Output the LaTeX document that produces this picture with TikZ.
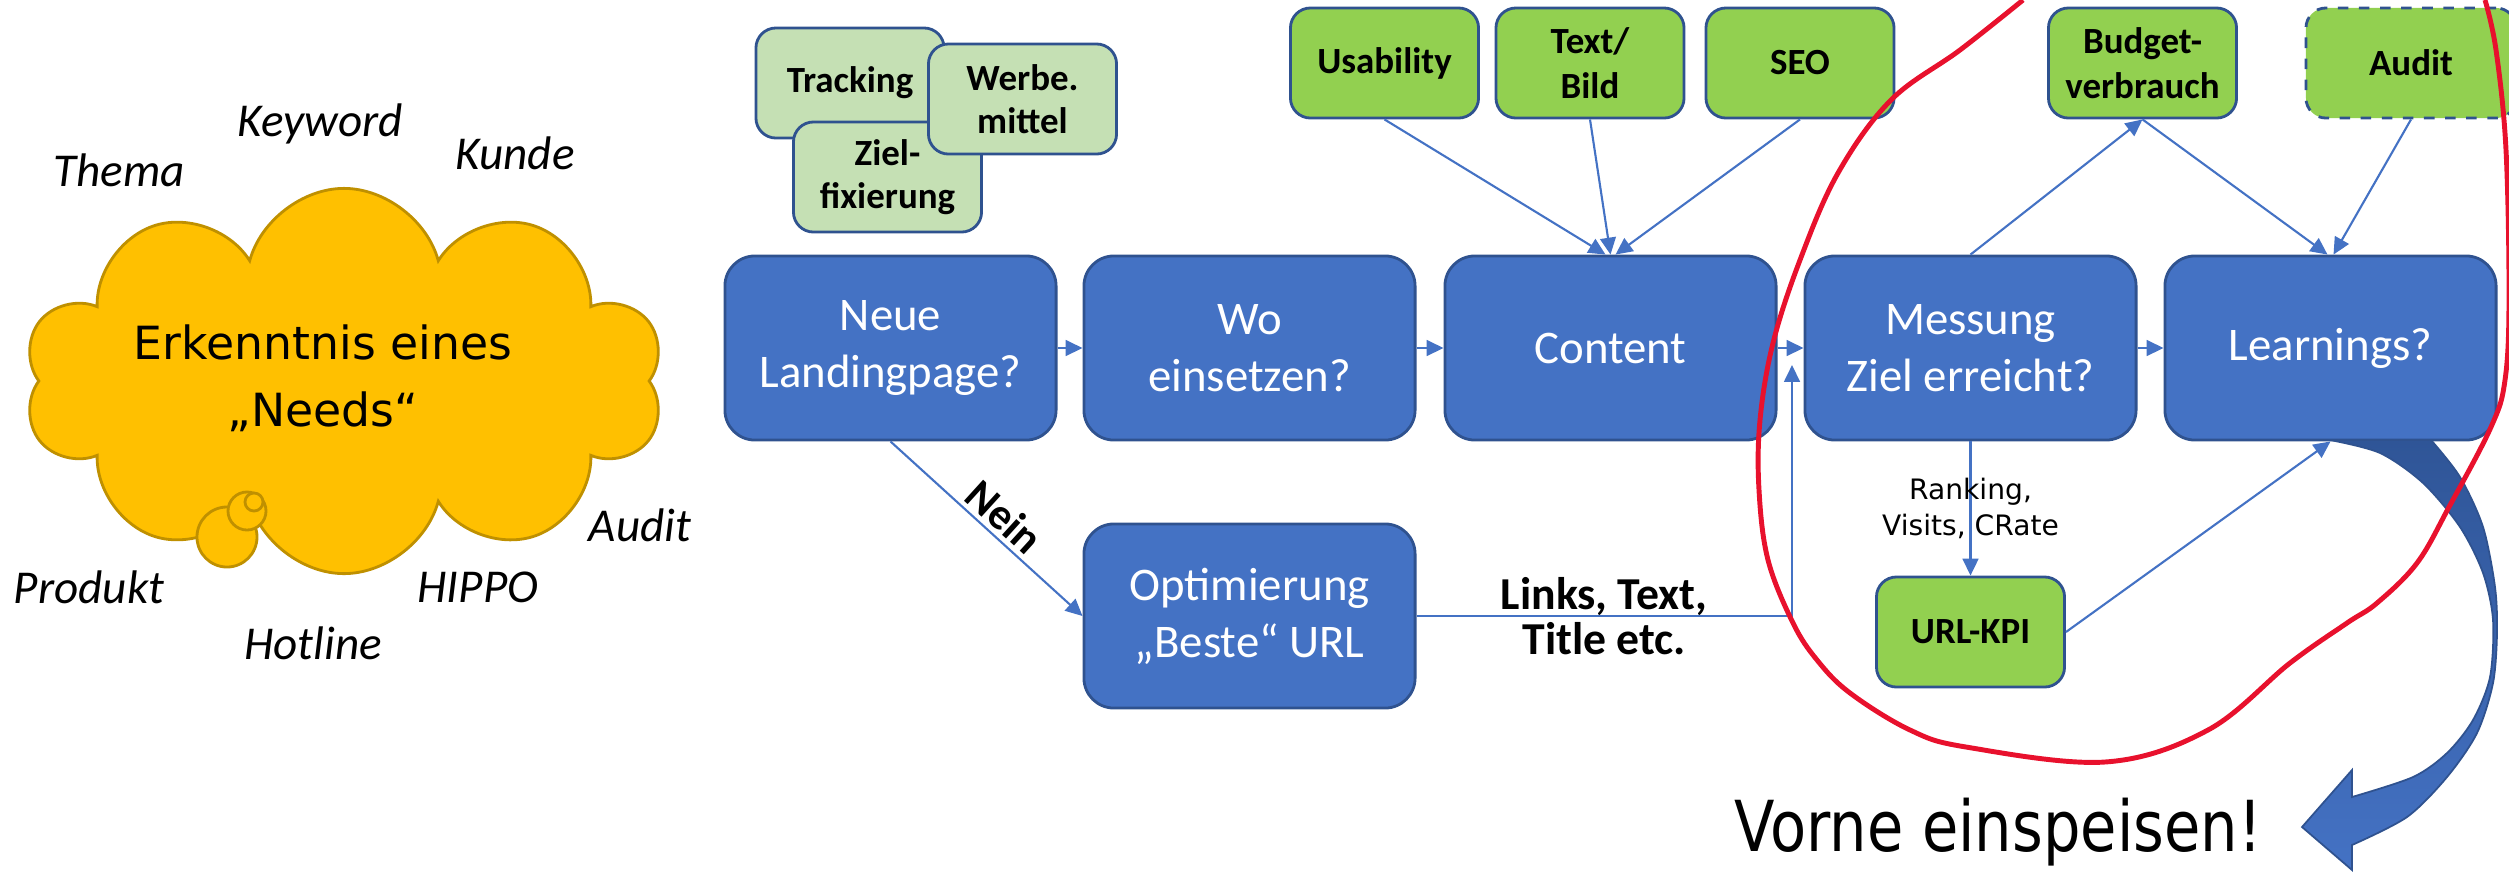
\documentclass[tikz,border=0pt]{standalone}
\usepackage{fontspec}
\setmainfont{Carlito}
\newfontfamily\dejavu{DejaVu Sans}
\newfontfamily\dejavuschmal{DejaVu Sans}[FakeStretch=0.84]
\usetikzlibrary{arrows.meta,shapes.symbols}

\definecolor{boxblue}{HTML}{4472C4}
\definecolor{boxrand}{HTML}{2F528F}
\definecolor{kpigreen}{HTML}{92D050}
\definecolor{palegreen}{HTML}{C5E0B4}
\definecolor{cloudgold}{HTML}{FFC000}
\definecolor{cloudrand}{HTML}{BF9000}
\definecolor{marker}{HTML}{E8112D}
\definecolor{darkarrow}{HTML}{2F5597}

\tikzset{
  schritt/.style={draw=boxrand, line width=0.8pt, fill=boxblue, rounded corners=0.3cm,
    minimum width=3.31cm, minimum height=1.84cm, inner sep=0pt, text=white, align=center,
    font=\fontsize{13.3}{16.2}\selectfont},
  kpi/.style={draw=boxrand, line width=0.8pt, fill=kpigreen, rounded corners=0.2cm,
    minimum width=1.88cm, minimum height=1.1cm, inner sep=0pt, align=center,
    font=\fontsize{10.5}{12.8}\selectfont\bfseries},
  vorab/.style={kpi, fill=palegreen, font=\fontsize{10.5}{12.3}\selectfont\bfseries},
  pfeil/.style={draw=boxblue, line width=0.6pt, -{Triangle[length=4.8pt,width=4.5pt]}},
  stichwort/.style={font=\fontsize{13.4}{16}\selectfont\itshape},
}

\begin{document}
\begin{tikzpicture}[x=0.01cm, y=-0.01cm]
\useasboundingbox (0,0) rectangle (2509,872);

% die Wolke
\node[cloud, cloud puffs=10, draw=cloudrand, fill=cloudgold, line width=0.8pt,
      minimum width=6.4cm, minimum height=3.85cm] (wolke) at (344,381) {};
\filldraw[fill=cloudgold, draw=cloudrand, line width=0.8pt] (227,537) circle (0.3cm);
\filldraw[fill=cloudgold, draw=cloudrand, line width=0.8pt] (247,511) circle (0.19cm);
\filldraw[fill=cloudgold, draw=cloudrand, line width=0.8pt] (254,502) circle (0.09cm);
\node[align=center, font=\dejavu\fontsize{13}{19}\selectfont] (need) at (323,378)
  {Erkenntnis eines\\„Needs“};

\foreach \name/\x/\y/\word in {thema/119/170/Thema, keyword/320/124/Keyword, kunde/515/153/Kunde,
    auditwort/640/525/Audit, hippo/478/587/HIPPO, produkt/89/587/Produkt, hotline/313/643/Hotline}
  \node[stichwort] (\name) at (\x,\y) {\word};

% Vorarbeit
\node[vorab] (tracking) at (850,83) {Tracking};
\node[vorab] (ziel) at (887.5,177) {Ziel-\\fixierung};
\node[vorab] (werbe) at (1022.5,99) {Werbe.\\mittel};

% Prozess
\foreach \name/\x/\text in {neu/890.5/{Neue\\Landingpage?}, wo/1249.5/{Wo\\einsetzen?},
    content/1610.5/Content, messung/1970.5/{Messung\\Ziel erreicht?}, learn/2330.5/Learnings?}
  \node[schritt] (\name) at (\x,348) {\text};
\node[schritt] (opti) at (1249.5,616) {Optimierung\\„Beste“ URL};

% Einflussfaktoren
\node[kpi] (usab) at (1384.5,63) {Usability};
\node[kpi] (bild) at (1590,63) {Text/\\Bild};
\node[kpi] (seo) at (1800,63) {SEO};
\node[kpi] (budget) at (2142.5,63) {Budget-\\verbrauch};
\node[kpi, dashed, minimum width=2.1cm] (audit) at (2411,63) {Audit};
\node[kpi] (urlkpi) at (1970.5,632) {URL-KPI};

\draw[pfeil] (neu) -- (wo);
\draw[pfeil] (wo) -- (content);
\draw[pfeil] (content) -- (messung);
\draw[pfeil] (messung) -- (learn);

\draw[pfeil] (usab.south) -- ([xshift=-0.05cm]content.north);
\draw[pfeil] (bild.south) -- (content.north);
\draw[pfeil] (seo.south) -- ([xshift=0.05cm]content.north);

\draw[pfeil] (messung.north) -- (budget.south);
\draw[pfeil] (budget.south) -- ([xshift=-0.03cm]learn.north);
\draw[pfeil] (audit.south) -- ([xshift=0.03cm]learn.north);

\draw[pfeil] (neu.south) -- node[pos=0.52, sloped, above=-2pt, font=\fontsize{12.5}{14}\selectfont\bfseries] (nein) {Nein} (opti.west);

\coordinate (rueck) at (1792,365);
\draw[pfeil] (opti.east) -| node[pos=0.25, align=center, font=\fontsize{13}{12.8}\selectfont\bfseries] (links) {Links, Text,\\Title etc.} (rueck);

\draw[pfeil] (messung.south) -- node[align=center, font=\dejavu\fontsize{8}{10}\selectfont] (ranking) {Ranking,\\Visits, CRate} (urlkpi.north);
\draw[pfeil] (urlkpi.east) -- (learn.south);

% Rueckfuehrung
\shade[top color=darkarrow, bottom color=boxblue, draw=boxrand, line width=0.5pt]
  plot[smooth] coordinates {(2330,440) (2380,453) (2423,483) (2460,527) (2483,573) (2493,620)
    (2490,677) (2473,720) (2447,753) (2413,777) (2352,797)}
  -- (2352,770) -- (2302,827) -- (2352,870)
  -- plot[smooth] coordinates {(2352,845) (2407,817) (2447,777) (2477,733) (2493,683) (2497,633)
    (2495,587) (2483,527) (2460,477) (2431,440)}
  -- cycle;
\node[font=\dejavuschmal\fontsize{20}{22}\selectfont, anchor=base west] (vorne) at (1722,851) {Vorne einspeisen!};

% Markierung
\draw[marker, line width=1.4pt] plot[smooth, tension=0.6] coordinates {(2023,0) (1960,50) (1891,100)
  (1838,173) (1800,260) (1773,343) (1760,420) (1759,490) (1768,560) (1793,623) (1817,660) (1850,693)
  (1910,730) (1966,747) (2105,762) (2208,730) (2290,663) (2347,623) (2377,603) (2417,563) (2449,507)
  (2491,427) (2505,380) (2509,300) (2506,150) (2496,50) (2485,0)};
\end{tikzpicture}
\end{document}
